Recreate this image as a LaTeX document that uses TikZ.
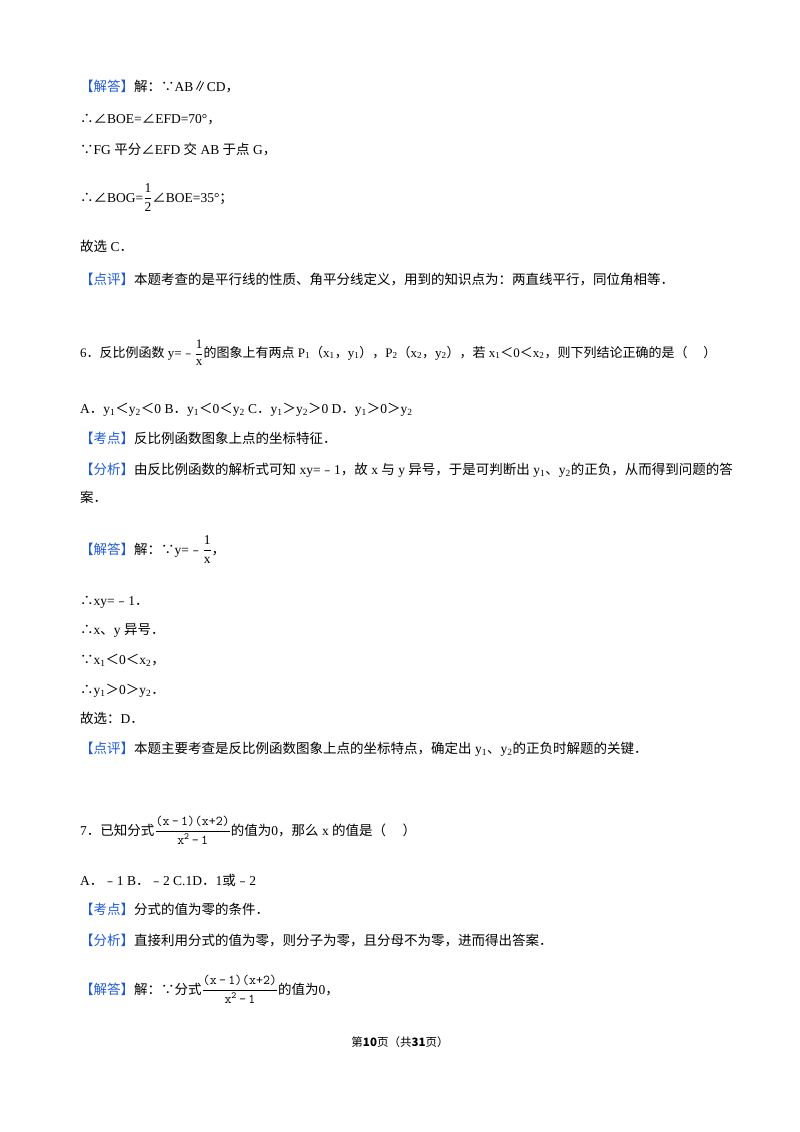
\documentclass[tikz,border=0pt]{standalone}
\usepackage{amsmath}
\usepackage{fontspec}
\setmainfont{Liberation Serif}
\newfontfamily\cjkf{Noto Sans CJK SC}
\newcommand\zh[1]{{\cjkf #1}}
\newcommand\bl[1]{{\cjkf\color{tagblue}【#1】}}
\newcommand\sub[1]{\textsubscript{#1}}
\newcommand\fr[2]{$\genfrac{}{}{0.6pt}{0}{\text{#1}}{\text{#2}}$}
\definecolor{tagblue}{RGB}{30,90,215}
\begin{document}
\begin{tikzpicture}[x=1pt,y=1pt,
  ln/.style={anchor=base west,inner sep=0pt,font=\fontsize{13.5}{16}\selectfont}]
\useasboundingbox (0,0) rectangle (800,-1132);
\node[ln] (l1) at (80,-92) {\bl{解答}\zh{解：∵}AB\zh{∥}CD\zh{，}};
\node[ln] (l2) at (80,-123) {\zh{∴∠}BOE=\zh{∠}EFD=70°\zh{，}};
\node[ln] (l3) at (80,-154) {\zh{∵}FG \zh{平分∠}EFD \zh{交} AB \zh{于点} G\zh{，}};
\node[ln] (l4) at (80,-202) {\zh{∴∠}BOG=\fr{1}{2}\zh{∠}BOE=35°\zh{；}};
\node[ln] (l5) at (80,-251) {\zh{故选} C\zh{．}};
\node[ln] (l6) at (80,-284) {\bl{点评}\zh{本题考查的是平行线的性质、角平分线定义，用到的知识点为：两直线平行，同位角相等．}};
\node[ln] (l7) at (80,-357) {\fontsize{13}{16}\selectfont 6\zh{．反比例函数} y=\zh{﹣}\fr{1}{x}\zh{的图象上有两点} P\sub{1}\zh{（}x\sub{1}\zh{，}y\sub{1}\zh{），}P\sub{2}\zh{（}x\sub{2}\zh{，}y\sub{2}\zh{），若} x\sub{1}\zh{＜}0\zh{＜}x\sub{2}\zh{，则下列结论正确的是（\quad\ ）}};
\node[ln] (l8) at (80,-413) {A\zh{．}y\sub{1}\zh{＜}y\sub{2}\zh{＜}0 B\zh{．}y\sub{1}\zh{＜}0\zh{＜}y\sub{2} C\zh{．}y\sub{1}\zh{＞}y\sub{2}\zh{＞}0 D\zh{．}y\sub{1}\zh{＞}0\zh{＞}y\sub{2}};
\node[ln] (l9) at (80,-443) {\bl{考点}\zh{反比例函数图象上点的坐标特征．}};
\node[ln] (l10) at (80,-474) {\bl{分析}\zh{由反比例函数的解析式可知} xy=\zh{﹣}1\zh{，故} x \zh{与} y \zh{异号，于是可判断出} y\sub{1}\zh{、}y\sub{2}\zh{的正负，从而得到问题的答}};
\node[ln] (l11) at (80,-502) {\zh{案．}};
\node[ln] (l12) at (80,-554) {\bl{解答}\zh{解：∵}y=\zh{﹣}\fr{1}{x}\zh{，}};
\node[ln] (l13) at (80,-605) {\zh{∴}xy=\zh{﹣}1\zh{．}};
\node[ln] (l14) at (80,-634) {\zh{∴}x\zh{、}y \zh{异号．}};
\node[ln] (l15) at (80,-664) {\zh{∵}x\sub{1}\zh{＜}0\zh{＜}x\sub{2}\zh{，}};
\node[ln] (l16) at (80,-694) {\zh{∴}y\sub{1}\zh{＞}0\zh{＞}y\sub{2}\zh{．}};
\node[ln] (l17) at (80,-723) {\zh{故选：}D\zh{．}};
\node[ln] (l18) at (80,-753) {\bl{点评}\zh{本题主要考查是反比例函数图象上点的坐标特点，确定出} y\sub{1}\zh{、}y\sub{2}\zh{的正负时解题的关键．}};
\node[ln] (l19) at (80,-835) {7\zh{．已知分式}\fr{\ttfamily(x\,-\,1)(x+2)}{\ttfamily x\textsuperscript{2}\,-\,1}\zh{的值为}0\zh{，那么} x \zh{的值是（\quad\ ）}};
\node[ln] (l20) at (80,-885) {A\zh{．﹣}1 B\zh{．﹣}2 C.1D\zh{．}1\zh{或﹣}2};
\node[ln] (l21) at (80,-914) {\bl{考点}\zh{分式的值为零的条件．}};
\node[ln] (l22) at (80,-945) {\bl{分析}\zh{直接利用分式的值为零，则分子为零，且分母不为零，进而得出答案．}};
\node[ln] (l23) at (80,-994) {\bl{解答}\zh{解：∵分式}\fr{\ttfamily(x\,-\,1)(x+2)}{\ttfamily x\textsuperscript{2}\,-\,1}\zh{的值为}0\zh{，}};
\node[anchor=base,inner sep=0pt,font=\fontsize{11.5}{14}\selectfont] (ft) at (400,-1046) {\zh{第\textbf{10}页（共\textbf{31}页）}};
\end{tikzpicture}
\end{document}
